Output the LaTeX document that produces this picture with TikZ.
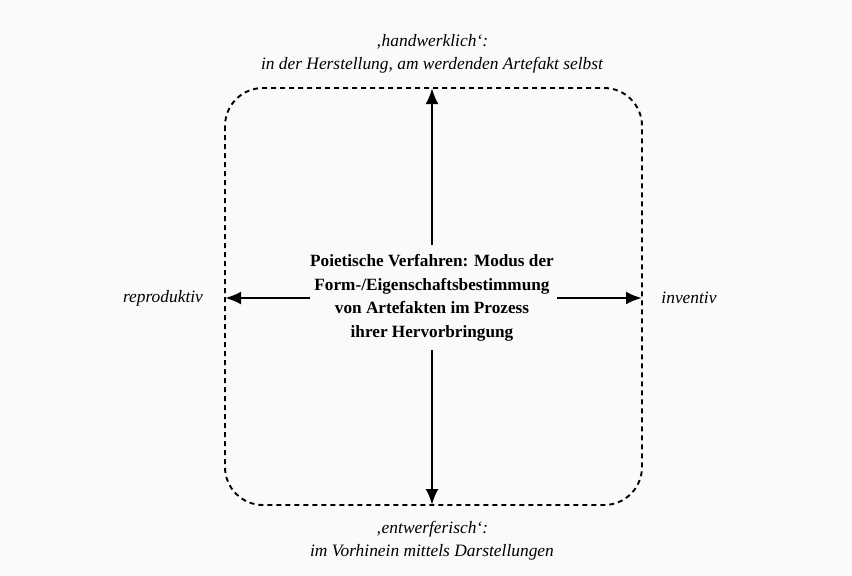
\documentclass[tikz,border=0pt]{standalone}
\usepackage{fontspec}
\setmainfont{Liberation Serif}
\usetikzlibrary{arrows.meta}
\begin{document}
\begin{tikzpicture}[x=1pt,y=-1pt,
  lbl/.style={font=\fontsize{17.4}{23}\selectfont\itshape, align=center, inner sep=0pt},
  ctr/.style={font=\fontsize{17.2}{23.5}\selectfont\bfseries, align=center, inner sep=0pt},
  arr/.style={-{Latex[length=16pt,width=13pt]}, line width=2.6pt},
  frame/.style={dashed, dash pattern=on 5pt off 4pt, line width=1.9pt, rounded corners=38pt}]
\fill[gray!4] (0,0) rectangle (852,576);
\useasboundingbox (0,0) rectangle (852,576);
\draw[frame] (225,88) rectangle (642,505);
\node[ctr] (c) at (432,298) {Poietische Verfahren: Modus der\\Form-/Eigenschaftsbestimmung\\von Artefakten im Prozess\\ihrer Hervorbringung};
\coordinate (ct) at (432,245);
\coordinate (cb) at (432,350);
\coordinate (cl) at (310,298);
\coordinate (cr) at (557,298);
\coordinate (et) at (432,88);
\coordinate (eb) at (432,505);
\coordinate (el) at (225,298);
\coordinate (er) at (642,298);
\draw[arr] (ct) -- (et);
\draw[arr] (cb) -- (eb);
\draw[arr] (cl) -- (el);
\draw[arr] (cr) -- (er);
\node[lbl] (top) at (432,54) {‚handwerklich‘:\\in der Herstellung, am werdenden Artefakt selbst};
\node[lbl] (bot) at (432,541) {‚entwerferisch‘:\\im Vorhinein mittels Darstellungen};
\node[lbl] (left) at (163,298) {reproduktiv};
\node[lbl] (right) at (689,298) {inventiv};
\end{tikzpicture}
\end{document}
